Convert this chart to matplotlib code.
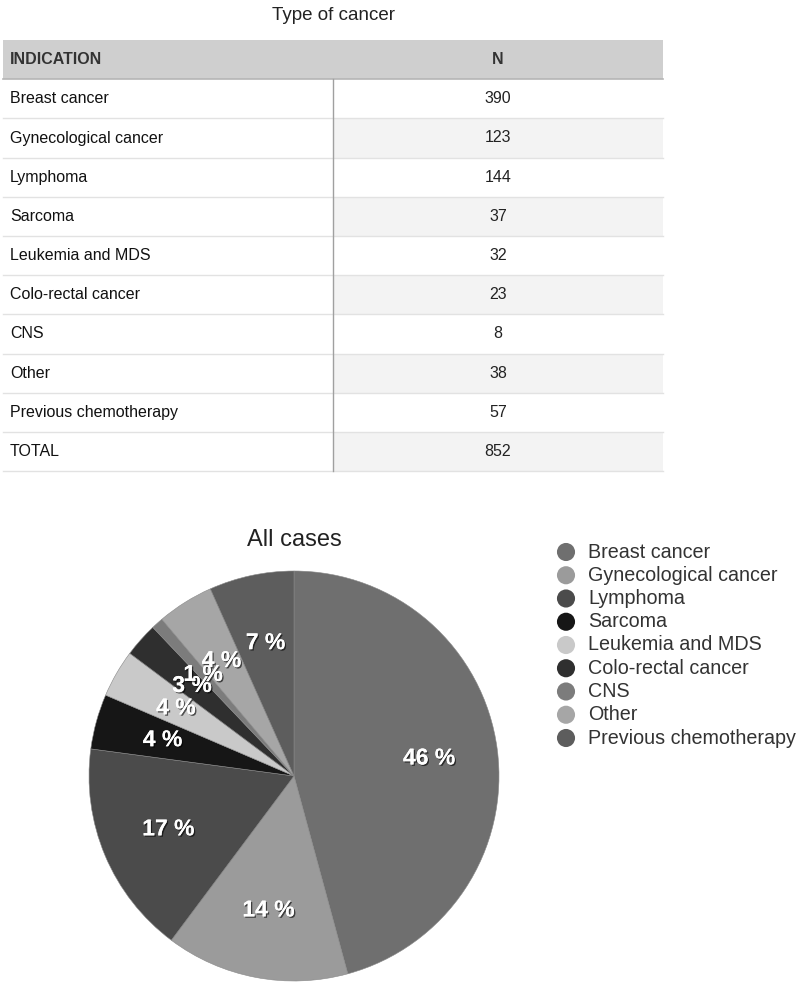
import matplotlib
matplotlib.use("Agg")
import matplotlib.pyplot as plt
import matplotlib.patheffects as pe
from matplotlib.patches import Rectangle

plt.rcParams['font.family'] = ['Liberation Sans', 'DejaVu Sans']

# -------------------- data --------------------
indications = ['Breast cancer', 'Gynecological cancer', 'Lymphoma', 'Sarcoma',
               'Leukemia and MDS', 'Colo-rectal cancer', 'CNS', 'Other',
               'Previous chemotherapy']
counts = [390, 123, 144, 37, 32, 23, 8, 38, 57]
total = 852
pie_colors = ['#6f6f6f', '#9b9b9b', '#4b4b4b', '#161616', '#c9c9c9',
              '#2f2f2f', '#7c7c7c', '#a6a6a6', '#5d5d5d']

W, H = 800, 986
fig = plt.figure(figsize=(W / 100, H / 100), dpi=100)

# -------------------- table (pixel coords) --------------------
tab = fig.add_axes([0, 0, 1, 1])
tab.set_xlim(0, W)
tab.set_ylim(H, 0)
tab.axis('off')

tab.text(333, 15, 'Type of cancer', ha='center', va='center', fontsize=13.5, color='#222222')

x0, x1, x2 = 3, 333, 663
row_h = 39.2
top = 40
tab.add_patch(Rectangle((x0, top), x2 - x0, row_h, facecolor='#cfcfcf', edgecolor='none'))
tab.text(10, top + row_h / 2, 'INDICATION', ha='left', va='center', fontsize=11.5,
         fontweight='bold', color='#333333')
tab.text(498, top + row_h / 2, 'N', ha='center', va='center', fontsize=11.5,
         fontweight='bold', color='#333333')

rows = list(zip(indications, counts)) + [('TOTAL', total)]
for i, (name, n) in enumerate(rows):
    y = top + row_h * (i + 1)
    if i % 2 == 1:
        tab.add_patch(Rectangle((x1, y), x2 - x1, row_h, facecolor='#f3f3f3', edgecolor='none'))
    tab.plot([x0, x2], [y + row_h, y + row_h], color='#e2e2e2', lw=1)
    tab.text(10, y + row_h / 2, name, ha='left', va='center', fontsize=11.5, color='#111111')
    tab.text(498, y + row_h / 2, str(n), ha='center', va='center', fontsize=11.5, color='#222222')
tab.plot([x0, x2], [top + row_h, top + row_h], color='#b5b5b5', lw=1.2)
tab.plot([x1, x1], [top + row_h, top + row_h * (len(rows) + 1)], color='#a0a0a0', lw=1)

tab.text(294, 540, 'All cases', ha='center', va='center', fontsize=17, color='#222222')

# -------------------- pie --------------------
cx, cy, r = 294, 776, 205
ax = fig.add_axes([(cx - r) / W, (H - cy - r) / H, 2 * r / W, 2 * r / H])
wedges, texts, autotexts = ax.pie(
    counts, colors=pie_colors, startangle=90, counterclock=False,
    autopct=lambda p: f'{p:.0f} %', pctdistance=0.665,
    wedgeprops=dict(linewidth=0.4, edgecolor='#888888'))
for t in autotexts:
    t.set_color('white')
    t.set_fontsize(16.5)
    t.set_fontweight('bold')
    t.set_path_effects([pe.withSimplePatchShadow(offset=(1, -1), shadow_rgbFace='#000000', alpha=0.6),
                        pe.Normal()])
ax.set_xlim(-1, 1)
ax.set_ylim(-1, 1)
ax.set_aspect('equal')

# -------------------- legend --------------------
for i, (name, c) in enumerate(zip(indications, pie_colors)):
    y = 552 + i * 23.25
    tab.scatter([566], [y], s=170, color=c, edgecolor='none')
    tab.text(588, y, name, ha='left', va='center', fontsize=14.2, color='#333333')

plt.savefig('out.png', dpi=100)
